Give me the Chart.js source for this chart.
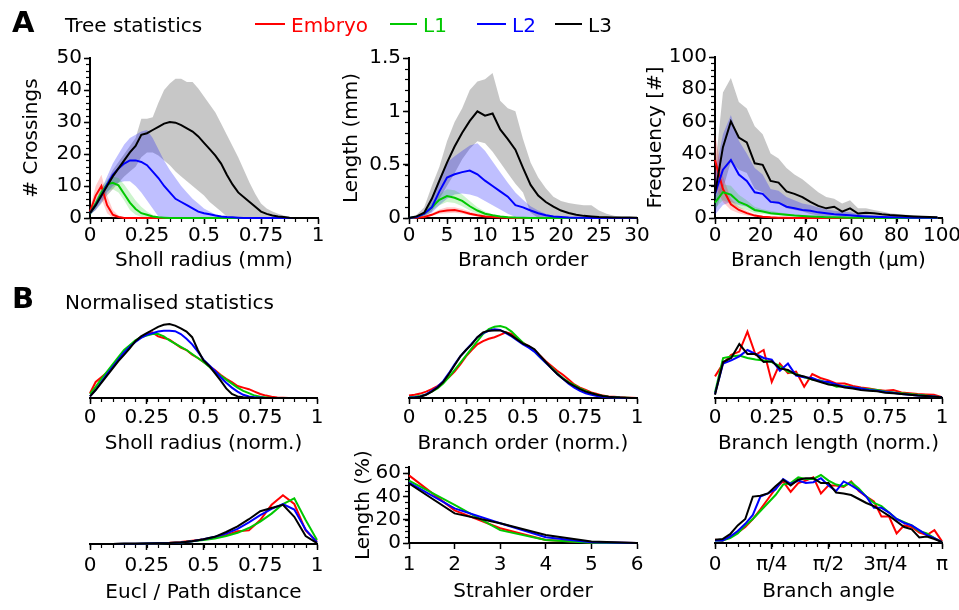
<!DOCTYPE html>
<html>
<head>
<meta charset="utf-8">
<script src="https://cdn.jsdelivr.net/npm/chart.js@4.4.1/dist/chart.umd.min.js"></script>
<style>
html,body{margin:0;padding:0;background:#fff;}
body{width:959px;height:610px;position:relative;overflow:hidden;font-family:"DejaVu Sans",sans-serif;}
canvas{position:absolute;left:0;top:0;}
.txt{position:absolute;white-space:nowrap;line-height:1;}
.leg{position:absolute;height:2px;}
</style>
</head>
<body>
<script>
// ================= DATA =================
const seriesNames = ['Embryo', 'L1', 'L2', 'L3'];
const seriesColors = ['#ff0000', '#00c800', '#0000ff', '#000000'];
const bandColors = ['rgba(255,0,0,0.2)', 'rgba(0,200,0,0.2)', 'rgba(0,0,255,0.25)', 'rgba(0,0,0,0.22)'];

// ---- A1: Sholl radius (mm) vs # crossings ----
const shollX = [0,0.025,0.05,0.075,0.1,0.125,0.15,0.175,0.2,0.225, 0.25,0.275,0.3,0.325,0.35,0.375,0.4,0.425,0.45,0.475, 0.5,0.525,0.55,0.575,0.6,0.625,0.65,0.675,0.7,0.725, 0.75,0.775,0.8,0.825,0.85,0.875,0.9,0.925,0.95,0.975, 1];
const shollEmbryo   = [2,7,10,4,1,0.3,0,0,0,0, 0,0,0,0,0,0,0,0,0,0, 0,0,0,0,0,0,0,0,0,0, 0,0,0,0,0,0,0,0,0,0, 0];
const shollEmbryoHi = [3,10,13.5,7,2.5,0.8,0.2,0,0,0, 0,0,0,0,0,0,0,0,0,0, 0,0,0,0,0,0,0,0,0,0, 0,0,0,0,0,0,0,0,0,0, 0];
const shollEmbryoLo = [1,4,6,1.5,0,0,0,0,0,0, 0,0,0,0,0,0,0,0,0,0, 0,0,0,0,0,0,0,0,0,0, 0,0,0,0,0,0,0,0,0,0, 0];
const shollL1   = [1.5,4.5,8,10.5,11,10.2,7.5,4.8,2.8,1.5, 1,0.5,0.2,0.1,0,0,0,0,0,0, 0,0,0,0,0,0,0,0,0,0, 0,0,0,0,0,0,0,0,0,0, 0];
const shollL1Hi = [2.5,5.5,9.5,12,13,12.5,10.5,8,5.5,3.5, 2,1,0.4,0,0,0,0,0,0,0, 0,0,0,0,0,0,0,0,0,0, 0,0,0,0,0,0,0,0,0,0, 0];
const shollL1Lo = [0.5,3,6,8.5,9,8,5.5,2.5,1,0.3, 0,0,0,0,0,0,0,0,0,0, 0,0,0,0,0,0,0,0,0,0, 0,0,0,0,0,0,0,0,0,0, 0];
const shollL2   = [1.5,4,7,10.5,13.5,15.5,17,18,18,17.5, 16.5,14.5,12.5,10,8,6,5,4,3,2, 1.5,1.2,0.8,0.5,0.3,0.2,0.1,0,0,0, 0,0,0,0,0,0,0,0,0,0, 0];
const shollL2Hi = [2,5.5,9,13,17,20,23,25,26,27, 27.5,25,21.5,18,15,12.5,10,8,6,4.5, 3,2,1.2,0.7,0.4,0.2,0,0,0,0, 0,0,0,0,0,0,0,0,0,0, 0];
const shollL2Lo = [1,2.5,5,8,10,11,11.5,11.5,10,8, 5.5,3,0.5,0,0,0,0,0,0,0, 0,0,0,0,0,0,0,0,0,0, 0,0,0,0,0,0,0,0,0,0, 0];
const shollL3   = [1.5,4,7,10,13,15.5,18,20.5,22.5,26, 26.5,27.5,28.5,29.5,30,29.8,29,28,27,25.5, 23.5,21.5,19.5,17,13.5,10.5,8,6.5,5,3.5, 2,1.3,0.8,0.5,0.3,0.1,0,0,0,0, 0];
const shollL3Hi = [2,4.5,8,11.5,15,17.5,20,22.5,25,31, 31,31.5,36,40,42,43.5,43.5,42.5,42.5,40.5, 38,35.5,33,29.5,26,22.5,19,15,11,7.5, 4.5,3,2,1.3,0.8,0.3,0,0,0,0, 0];
const shollL3Lo = [1,2.5,4.5,7,9,11,13,14.5,16,19, 20.5,20.5,19.5,18,16.5,14.5,13,11.5,10,8.5, 7,5,3.5,2,0.5,0,0,0,0,0, 0,0,0,0,0,0,0,0,0,0, 0];
const shollTicks = [0,0.25,0.5,0.75,1];
const shollTickLabels = ['0','0.25','0.5','0.75','1'];
const crossTicks = [0,10,20,30,40,50];
const crossTickLabels = ['0','10','20','30','40','50'];

// ---- A2: Branch order vs Length (mm) ----
const orderX = [0,1,2,3,4,5,6,7,8,9, 10,11,12,13,14,15,16,17,18,19, 20,21,22,23,24,25,26,27,28,29, 30];
const orderEmbryo   = [0,0.003,0.01,0.03,0.06,0.07,0.075,0.06,0.04,0.025, 0.015,0.01,0.005,0.003,0,0,0,0,0,0, 0,0,0,0,0,0,0,0,0,0, 0];
const orderEmbryoHi = [0,0.005,0.015,0.045,0.08,0.1,0.1,0.085,0.06,0.04, 0.025,0.015,0.008,0.004,0,0,0,0,0,0, 0,0,0,0,0,0,0,0,0,0, 0];
const orderEmbryoLo = [0,0.001,0.005,0.02,0.04,0.045,0.05,0.04,0.025,0.015, 0.008,0.004,0,0,0,0,0,0,0,0, 0,0,0,0,0,0,0,0,0,0, 0];
const orderL1   = [0,0.01,0.04,0.1,0.17,0.205,0.19,0.16,0.11,0.07, 0.04,0.025,0.015,0.008,0.004,0.002,0,0,0,0, 0,0,0,0,0,0,0,0,0,0, 0];
const orderL1Hi = [0,0.015,0.06,0.14,0.22,0.27,0.26,0.22,0.16,0.1, 0.06,0.035,0.02,0.01,0.005,0,0,0,0,0, 0,0,0,0,0,0,0,0,0,0, 0];
const orderL1Lo = [0,0.005,0.02,0.07,0.12,0.15,0.14,0.11,0.07,0.04, 0.02,0.01,0,0,0,0,0,0,0,0, 0,0,0,0,0,0,0,0,0,0, 0];
const orderL2   = [0,0.01,0.04,0.1,0.25,0.38,0.41,0.43,0.445,0.41, 0.35,0.3,0.25,0.2,0.12,0.1,0.07,0.045,0.025,0.015, 0.01,0.005,0.003,0.002,0.001,0.001,0.001,0,0,0, 0];
const orderL2Hi = [0,0.01,0.06,0.2,0.38,0.52,0.58,0.63,0.68,0.7, 0.63,0.53,0.43,0.33,0.24,0.17,0.11,0.07,0.04,0.02, 0.01,0,0,0,0,0,0,0,0,0, 0];
const orderL2Lo = [0,0.005,0.02,0.05,0.12,0.18,0.22,0.23,0.22,0.2, 0.16,0.12,0.08,0.04,0.01,0,0,0,0,0, 0,0,0,0,0,0,0,0,0,0, 0];
const orderL3   = [0,0.015,0.05,0.18,0.35,0.52,0.67,0.8,0.91,1.0, 0.96,0.98,0.83,0.74,0.64,0.47,0.31,0.21,0.15,0.106, 0.07,0.047,0.03,0.02,0.015,0.01,0.008,0.005,0.004,0.005, 0.002];
const orderL3Hi = [0.005,0.03,0.1,0.3,0.48,0.72,0.9,1.03,1.2,1.28, 1.3,1.36,1.1,1.03,1.0,0.74,0.52,0.38,0.28,0.2, 0.16,0.14,0.13,0.12,0.12,0.07,0.04,0.02,0.01,0.01, 0.005];
const orderL3Lo = [0,0,0.01,0.06,0.18,0.3,0.42,0.55,0.65,0.72, 0.7,0.62,0.52,0.42,0.32,0.24,0.05,0,0,0, 0,0,0,0,0,0,0,0,0,0, 0];
const orderTicks = [0,5,10,15,20,25,30];
const orderTickLabels = ['0','5','10','15','20','25','30'];
const lenMmTicks = [0,0.5,1,1.5];
const lenMmTickLabels = ['0','0.5','1','1.5'];

// ---- A3: Branch length (µm) vs Frequency ----
const lengthX = [0,3.5,7,10.5,14,17.5,21,24.5,28,31.5, 35,38.5,42,45.5,49,52.5,56,59.5,63,66.5, 70,73.5,77,80.5,84,87.5,91,94.5,98];
const lengthEmbryo   = [36,18,8.5,5,3,1.5,0.8,0.4,0.2,0.1, 0,0,0,0,0,0,0,0,0,0, 0,0,0,0,0,0,0,0,0];
const lengthEmbryoHi = [52,26,12,7,4.5,2.3,1.2,0.6,0.3,0.1, 0,0,0,0,0,0,0,0,0,0, 0,0,0,0,0,0,0,0,0];
const lengthEmbryoLo = [20,10,5,3,1.5,0.7,0.3,0.1,0,0, 0,0,0,0,0,0,0,0,0,0, 0,0,0,0,0,0,0,0,0];
const lengthL1   = [9.5,16,14.5,10,8,5,4,3,2.5,2, 1.5,1.2,1,0.7,0.5,0.4,0.3,0.2,0.15,0.1, 0.1,0.05,0.05,0.05,0,0,0,0,0];
const lengthL1Hi = [13,21,20,14.5,11,7,5.5,4.5,3.5,2.8, 2.2,1.8,1.4,1,0.8,0.6,0.4,0.3,0.2,0.15, 0.1,0.1,0.05,0.05,0,0,0,0,0];
const lengthL1Lo = [6,11,9,6,5,3,2.5,2,1.5,1.2, 0.9,0.7,0.6,0.4,0.3,0.2,0.1,0.1,0.05,0, 0,0,0,0,0,0,0,0,0];
const lengthL2   = [15,30,36,27,23,16,15,10,9.5,7, 6,5,4.5,3.5,3,2.3,2,1.7,1.3,1, 0.8,0.6,0.5,0.4,0.3,0.2,0.15,0.1,0.1];
const lengthL2Hi = [28,52,64,48,40,31,27,18,17,13, 11,9,8,6.5,5.5,4.5,4,3.5,2.5,2, 1.5,1.2,1,0.8,0.6,0.4,0.3,0.2,0.2];
const lengthL2Lo = [2,8,10,8,7,4,4,2.5,2,1.5, 1.2,1,1,0.7,0.5,0.4,0.3,0.2,0.1,0, 0,0,0,0,0,0,0,0,0];
const lengthL3   = [15,44,60,50,47,34,33,23,22,16.5, 15,13,10,7.5,6,7,4,6,2.8,3.2, 3,2.3,1.8,1.5,1.3,1,0.8,0.6,0.5];
const lengthL3Hi = [30,78,87,72,68,57,52,40,37,31, 27,24,20,16,13,12,9,11,6,6, 5,4,3,2.5,2,1.7,1.3,1,0.8];
const lengthL3Lo = [3,18,35,30,28,18,16,10,9,6, 5,4,2.5,1.5,1,1.5,0.5,1,0.2,0.3, 0.3,0.2,0.1,0,0,0,0,0,0];
const lengthTicks = [0,20,40,60,80,100];
const lengthTickLabels = ['0','20','40','60','80','100'];
const freqTicks = [0,20,40,60,80,100];
const freqTickLabels = ['0','20','40','60','80','100'];

// ---- B: normalised statistics ----
const normX = [0,0.025,0.05,0.075,0.1,0.125,0.15,0.175,0.2,0.225, 0.25,0.275,0.3,0.325,0.35,0.375,0.4,0.425,0.45,0.475, 0.5,0.525,0.55,0.575,0.6,0.625,0.65,0.675,0.7,0.725, 0.75,0.775,0.8,0.825,0.85,0.875,0.9,0.925,0.95,0.975, 1];
const normTicks = [0,0.25,0.5,0.75,1];
const normTickLabels = ['0','0.25','0.5','0.75','1'];

const nShollEmbryo = [0.06,0.2,0.26,0.32,0.4,0.5,0.58,0.65,0.71,0.76, 0.8,0.82,0.77,0.75,0.73,0.68,0.63,0.6,0.54,0.5, 0.45,0.4,0.35,0.29,0.24,0.2,0.15,0.13,0.11,0.08, 0.05,0.03,0.015,0.007,0.003,0,0,0,0,0, 0];
const nShollL1     = [0.05,0.14,0.24,0.33,0.42,0.51,0.6,0.66,0.72,0.76, 0.78,0.8,0.8,0.77,0.72,0.68,0.64,0.6,0.55,0.5, 0.45,0.39,0.33,0.28,0.23,0.18,0.13,0.09,0.06,0.03, 0.015,0.007,0,0,0,0,0,0,0,0, 0];
const nShollL2     = [0.02,0.1,0.2,0.3,0.39,0.48,0.57,0.64,0.7,0.75, 0.79,0.81,0.83,0.84,0.84,0.835,0.8,0.74,0.67,0.58, 0.48,0.41,0.34,0.26,0.19,0.13,0.08,0.04,0.02,0.01, 0.005,0,0,0,0,0,0,0,0,0, 0];
const nShollL3     = [0.02,0.1,0.19,0.28,0.37,0.46,0.54,0.62,0.71,0.77, 0.81,0.85,0.89,0.915,0.925,0.905,0.87,0.83,0.76,0.6, 0.47,0.4,0.31,0.22,0.12,0.05,0.02,0.01,0.005,0, 0,0,0,0,0,0,0,0,0,0, 0];

const nOrderEmbryo = [0.03,0.04,0.055,0.08,0.11,0.15,0.2,0.26,0.33,0.42, 0.52,0.6,0.67,0.71,0.74,0.76,0.79,0.82,0.8,0.74, 0.69,0.65,0.6,0.53,0.46,0.4,0.34,0.29,0.23,0.17, 0.13,0.1,0.07,0.05,0.03,0.02,0.015,0.01,0.005,0.003, 0];
const nOrderL1     = [0.01,0.015,0.025,0.045,0.08,0.12,0.18,0.26,0.35,0.44, 0.53,0.62,0.71,0.8,0.86,0.89,0.9,0.88,0.83,0.76, 0.69,0.64,0.58,0.51,0.44,0.38,0.31,0.25,0.2,0.16, 0.12,0.09,0.06,0.04,0.025,0.015,0.01,0.005,0.003,0.001, 0];
const nOrderL2     = [0.005,0.01,0.02,0.045,0.09,0.14,0.21,0.31,0.42,0.52, 0.6,0.68,0.76,0.81,0.84,0.86,0.85,0.81,0.77,0.72, 0.67,0.63,0.58,0.51,0.44,0.37,0.3,0.24,0.18,0.13, 0.09,0.06,0.04,0.025,0.015,0.01,0.005,0.003,0.001,0, 0];
const nOrderL3     = [0,0.003,0.015,0.04,0.08,0.13,0.2,0.3,0.41,0.52, 0.6,0.67,0.76,0.82,0.84,0.845,0.845,0.82,0.78,0.73, 0.68,0.65,0.61,0.53,0.45,0.37,0.3,0.24,0.19,0.15, 0.11,0.08,0.06,0.04,0.025,0.015,0.01,0.005,0.002,0, 0];

const nLengthX = [0,0.0357,0.0714,0.1071,0.1429,0.1786,0.2143,0.25,0.2857,0.3214, 0.3571,0.3929,0.4286,0.4643,0.5,0.5357,0.5714,0.6071,0.6429,0.6786, 0.7143,0.75,0.7857,0.8214,0.8571,0.8929,0.9286,0.9643,1];
const nLengthEmbryo = [0.27,0.43,0.54,0.58,0.83,0.54,0.6,0.2,0.43,0.31, 0.33,0.14,0.3,0.25,0.22,0.18,0.18,0.15,0.13,0.12, 0.1,0.09,0.1,0.07,0.06,0.05,0.045,0.04,0.01];
const nLengthL1     = [0.07,0.5,0.52,0.53,0.5,0.48,0.47,0.45,0.4,0.33, 0.3,0.26,0.23,0.22,0.18,0.14,0.15,0.13,0.12,0.11, 0.1,0.08,0.07,0.06,0.05,0.04,0.03,0.02,0.01];
const nLengthL2     = [0.05,0.43,0.47,0.52,0.6,0.55,0.5,0.48,0.34,0.43, 0.28,0.26,0.25,0.21,0.2,0.17,0.14,0.13,0.12,0.1, 0.09,0.075,0.065,0.05,0.04,0.03,0.025,0.018,0.01];
const nLengthL3     = [0.04,0.45,0.5,0.675,0.55,0.55,0.45,0.46,0.37,0.35, 0.29,0.27,0.23,0.2,0.17,0.155,0.13,0.12,0.1,0.09, 0.085,0.066,0.06,0.05,0.04,0.03,0.025,0.017,0.01];

const euclX = [0,0.05,0.1,0.15,0.2,0.25,0.3,0.35,0.4,0.45, 0.5,0.55,0.6,0.65,0.7,0.75,0.8,0.85,0.9,0.95, 1];
const euclEmbryo = [0,0,0.001,0.002,0.003,0.005,0.01,0.015,0.025,0.04, 0.055,0.08,0.11,0.16,0.17,0.3,0.49,0.61,0.5,0.17, 0.03];
const euclL1     = [0,0,0.001,0.002,0.003,0.005,0.008,0.012,0.02,0.035, 0.05,0.07,0.1,0.14,0.2,0.28,0.38,0.5,0.57,0.3, 0.05];
const euclL2     = [0,0,0.001,0.002,0.003,0.005,0.008,0.012,0.02,0.035, 0.06,0.09,0.13,0.19,0.27,0.36,0.44,0.5,0.43,0.18, 0.02];
const euclL3     = [0,0,0.001,0.002,0.003,0.005,0.008,0.012,0.02,0.035, 0.06,0.09,0.15,0.22,0.31,0.41,0.45,0.49,0.34,0.1, 0.01];

const strahlerX = [1,2,3,4,5,6];
const strahlerEmbryo = [58,28,12.6,2.6,0.5,0];
const strahlerL1     = [53.4,32.6,11,2.5,0.3,0];
const strahlerL2     = [51.7,29.7,16.9,4.9,0.7,0];
const strahlerL3     = [51,25.4,16.9,6.9,1.2,0];
const strahlerTicks = [1,2,3,4,5,6];
const strahlerTickLabels = ['1','2','3','4','5','6'];
const pctTicks = [0,20,40,60];
const pctTickLabels = ['0','20','40','60'];

const angleX = [0,6,12,18,24,30,36,42,48,54, 60,66,72,78,84,90,96,102,108,114, 120,126,132,138,144,150,156,162,168,174, 180]; // degrees
const angleEmbryo = [0.04,0.03,0.08,0.13,0.2,0.3,0.42,0.55,0.68,0.77, 0.64,0.75,0.78,0.82,0.62,0.72,0.72,0.7,0.77,0.65, 0.58,0.52,0.33,0.33,0.12,0.22,0.2,0.13,0.1,0.16, 0.02];
const angleL1     = [0.03,0.03,0.06,0.12,0.22,0.3,0.4,0.5,0.6,0.73, 0.75,0.82,0.8,0.8,0.85,0.78,0.73,0.71,0.76,0.68, 0.58,0.5,0.46,0.38,0.3,0.26,0.22,0.15,0.12,0.06, 0.01];
const angleL2     = [0.03,0.03,0.08,0.15,0.24,0.35,0.58,0.62,0.67,0.8, 0.74,0.78,0.75,0.76,0.81,0.72,0.65,0.77,0.72,0.66, 0.58,0.44,0.44,0.38,0.3,0.25,0.22,0.16,0.1,0.06, 0.01];
const angleL3     = [0.04,0.05,0.11,0.22,0.3,0.58,0.59,0.62,0.71,0.79, 0.72,0.79,0.81,0.81,0.75,0.75,0.63,0.62,0.6,0.55, 0.5,0.46,0.4,0.34,0.27,0.2,0.17,0.07,0.08,0.05, 0.01];
const angleTicks = [0,45,90,135,180];
const angleTickLabels = ['0','π/4','π/2','3π/4','π'];

// ================= RENDERING =================
const FONT = '"DejaVu Sans", sans-serif';
const FS = 20;

function pts(xs, ys) { return xs.map((x, i) => ({ x: x, y: ys[i] })); }

function lineSets(xs, arrs) {
  return arrs.map((ys, k) => ({
    data: pts(xs, ys), borderColor: seriesColors[k], borderWidth: 2,
    pointRadius: 0, fill: false, tension: 0, clip: false, order: 3 - k
  }));
}
function bandSets(xs, his, los) {
  const out = [];
  for (let k = 3; k >= 0; k--) {
    out.push({ data: pts(xs, his[k]), borderColor: 'transparent', borderWidth: 0, pointRadius: 0,
               backgroundColor: bandColors[k], fill: '+1', tension: 0, order: 20 + k });
    out.push({ data: pts(xs, los[k]), borderColor: 'transparent', borderWidth: 0, pointRadius: 0,
               fill: false, tension: 0, order: 20 + k });
  }
  return out;
}

const minorTickPlugin = {
  id: 'minorTicks',
  beforeDatasetsDraw(chart, args, opts) {
    const ctx = chart.ctx;
    ctx.save();
    ctx.strokeStyle = '#000';
    ctx.lineWidth = 1.2;
    const len = 4;
    if (opts.x) {
      const s = chart.scales.x;
      const n = Math.round((s.max - s.min) / opts.x);
      for (let k = 0; k <= n; k++) {
        const p = Math.round(s.getPixelForValue(s.min + k * opts.x)) + 0.5;
        ctx.beginPath(); ctx.moveTo(p, s.top); ctx.lineTo(p, s.top + len); ctx.stroke();
      }
    }
    if (opts.y) {
      const s = chart.scales.y;
      const n = Math.round((s.max - s.min) / opts.y);
      for (let k = 0; k <= n; k++) {
        const p = Math.round(s.getPixelForValue(s.min + k * opts.y)) + 0.5;
        ctx.beginPath(); ctx.moveTo(s.right, p); ctx.lineTo(s.right - len, p); ctx.stroke();
      }
    }
    ctx.restore();
  }
};

function panel(P) {
  const cv = document.createElement('canvas');
  cv.width = 959; cv.height = 610;
  document.body.appendChild(cv);
  const yShow = !!P.y.show;
  const padL = yShow ? P.y.titleX - FS * 0.6 : P.left;
  const yW = yShow ? P.left - padL : 0;
  const xH = P.x.H;
  const padB = 610 - P.bottom - xH;
  const scaleFont = { family: FONT, size: FS };
  new Chart(cv, {
    type: 'line',
    data: { datasets: P.datasets },
    options: {
      responsive: false, animation: false, devicePixelRatio: 1,
      layout: { padding: { left: padL, right: 959 - P.right, top: P.top, bottom: padB } },
      plugins: { legend: { display: false }, tooltip: { enabled: false },
                 minorTicks: { x: P.x.minor, y: P.y.minor } },
      scales: {
        x: {
          type: 'linear', position: 'bottom', min: P.x.min, max: P.x.max,
          afterBuildTicks: s => { s.ticks = P.x.ticks.map(v => ({ value: v })); },
          afterFit: s => { s.height = xH; s.paddingLeft = 0; s.paddingRight = 0; },
          ticks: { font: scaleFont, color: '#000', padding: P.x.pad, maxRotation: 0, autoSkip: false,
                   callback: (v, i) => P.x.labels[i] },
          grid: { display: true, drawOnChartArea: false, drawTicks: true, tickLength: 6,
                  tickWidth: 1.5, tickColor: '#000' },
          border: { display: true, color: '#000', width: 2 },
          title: { display: true, text: P.x.title, font: scaleFont, color: '#000', padding: 0 }
        },
        y: {
          type: 'linear', position: 'left', min: P.y.min, max: P.y.max, display: yShow,
          afterBuildTicks: s => { if (P.y.ticks) s.ticks = P.y.ticks.map(v => ({ value: v })); },
          afterFit: s => { s.width = yW; s.paddingTop = 0; s.paddingBottom = 0; },
          ticks: { font: scaleFont, color: '#000', padding: 2, autoSkip: false,
                   callback: (v, i) => (P.y.labels ? P.y.labels[i] : '') },
          grid: { display: true, drawOnChartArea: false, drawTicks: true, tickLength: 6,
                  tickWidth: 1.5, tickColor: '#000' },
          border: { display: true, color: '#000', width: 2 },
          title: { display: !!P.y.title, text: P.y.title || '', font: scaleFont, color: '#000', padding: 0 }
        }
      }
    },
    plugins: [minorTickPlugin]
  });
}

// ---- Panel A ----
panel({
  left: 90, right: 318, top: 58, bottom: 218,
  x: { min: 0, max: 1, ticks: shollTicks, labels: shollTickLabels, minor: 0.05, title: 'Sholl radius (mm)', pad: 0, H: 55 },
  y: { show: true, min: 0, max: 50, ticks: crossTicks, labels: crossTickLabels, minor: 2, title: '# Crossings', titleX: 32 },
  datasets: bandSets(shollX, [shollEmbryoHi, shollL1Hi, shollL2Hi, shollL3Hi], [shollEmbryoLo, shollL1Lo, shollL2Lo, shollL3Lo])
    .concat(lineSets(shollX, [shollEmbryo, shollL1, shollL2, shollL3]))
});
panel({
  left: 409, right: 637, top: 58, bottom: 218,
  x: { min: 0, max: 30, ticks: orderTicks, labels: orderTickLabels, minor: 1, title: 'Branch order', pad: 0, H: 55 },
  y: { show: true, min: 0, max: 1.5, ticks: lenMmTicks, labels: lenMmTickLabels, minor: 0.1, title: 'Length (mm)', titleX: 352 },
  datasets: bandSets(orderX, [orderEmbryoHi, orderL1Hi, orderL2Hi, orderL3Hi], [orderEmbryoLo, orderL1Lo, orderL2Lo, orderL3Lo])
    .concat(lineSets(orderX, [orderEmbryo, orderL1, orderL2, orderL3]))
});
panel({
  left: 715, right: 942, top: 57, bottom: 218,
  x: { min: 0, max: 100, ticks: lengthTicks, labels: lengthTickLabels, minor: 5, title: 'Branch length (µm)', pad: 0, H: 55 },
  y: { show: true, min: 0, max: 100, ticks: freqTicks, labels: freqTickLabels, minor: 4, title: 'Frequency [#]', titleX: 656 },
  datasets: bandSets(lengthX, [lengthEmbryoHi, lengthL1Hi, lengthL2Hi, lengthL3Hi], [lengthEmbryoLo, lengthL1Lo, lengthL2Lo, lengthL3Lo])
    .concat(lineSets(lengthX, [lengthEmbryo, lengthL1, lengthL2, lengthL3]))
});

// ---- Panel B ----
panel({
  left: 90, right: 317, top: 318, bottom: 398,
  x: { min: 0, max: 1, ticks: normTicks, labels: normTickLabels, minor: 0.05, title: 'Sholl radius (norm.)', pad: 2, H: 58 },
  y: { show: false, min: 0, max: 1 },
  datasets: lineSets(normX, [nShollEmbryo, nShollL1, nShollL2, nShollL3])
});
panel({
  left: 409, right: 637, top: 318, bottom: 398,
  x: { min: 0, max: 1, ticks: normTicks, labels: normTickLabels, minor: 0.05, title: 'Branch order (norm.)', pad: 2, H: 58 },
  y: { show: false, min: 0, max: 1 },
  datasets: lineSets(normX, [nOrderEmbryo, nOrderL1, nOrderL2, nOrderL3])
});
panel({
  left: 715, right: 942, top: 318, bottom: 398,
  x: { min: 0, max: 1, ticks: normTicks, labels: normTickLabels, minor: 0.05, title: 'Branch length (norm.)', pad: 2, H: 58 },
  y: { show: false, min: 0, max: 1 },
  datasets: lineSets(nLengthX, [nLengthEmbryo, nLengthL1, nLengthL2, nLengthL3])
});
panel({
  left: 90, right: 317, top: 464, bottom: 544,
  x: { min: 0, max: 1, ticks: normTicks, labels: normTickLabels, minor: 0.05, title: 'Eucl / Path distance', pad: 4, H: 61 },
  y: { show: false, min: 0, max: 1 },
  datasets: lineSets(euclX, [euclEmbryo, euclL1, euclL2, euclL3])
});
panel({
  left: 409, right: 637, top: 543 - 65 * 70 / 60, bottom: 543,
  x: { min: 1, max: 6, ticks: strahlerTicks, labels: strahlerTickLabels, minor: 0, title: 'Strahler order', pad: 4, H: 61 },
  y: { show: true, min: 0, max: 65, ticks: pctTicks, labels: pctTickLabels, minor: 5, title: 'Length (%)', titleX: 364 },
  datasets: lineSets(strahlerX, [strahlerEmbryo, strahlerL1, strahlerL2, strahlerL3])
});
panel({
  left: 715, right: 942, top: 463, bottom: 543,
  x: { min: 0, max: 180, ticks: angleTicks, labels: angleTickLabels, minor: 9, title: 'Branch angle', pad: 4, H: 61 },
  y: { show: false, min: 0, max: 1 },
  datasets: lineSets(angleX, [angleEmbryo, angleL1, angleL2, angleL3])
});

// ---- Headings and legend ----
function addText(t, x, base, fs, bold, color) {
  const d = document.createElement('div');
  d.className = 'txt';
  d.textContent = t;
  d.style.left = x + 'px';
  d.style.top = (base - 0.846 * fs) + 'px';
  d.style.fontSize = fs + 'px';
  d.style.fontWeight = bold ? 'bold' : 'normal';
  d.style.color = color;
  document.body.appendChild(d);
}
function addLegLine(x, y, w, color) {
  const d = document.createElement('div');
  d.className = 'leg';
  d.style.left = x + 'px'; d.style.top = y + 'px'; d.style.width = w + 'px';
  d.style.background = color;
  document.body.appendChild(d);
}
addText('A', 12, 33, 29, true, '#000');
addText('Tree statistics', 65, 32, FS, false, '#000');
addText('B', 12, 309, 29, true, '#000');
addText('Normalised statistics', 65, 309, FS, false, '#000');
const legendX = [[255, 291], [390, 423], [477, 512], [555, 588]];
seriesNames.forEach((n, k) => {
  addLegLine(legendX[k][0], 23, legendX[k][1] - legendX[k][0] - 6, seriesColors[k]);
  addText(n, legendX[k][1], 32, FS, false, seriesColors[k]);
});
</script>
</body>
</html>
